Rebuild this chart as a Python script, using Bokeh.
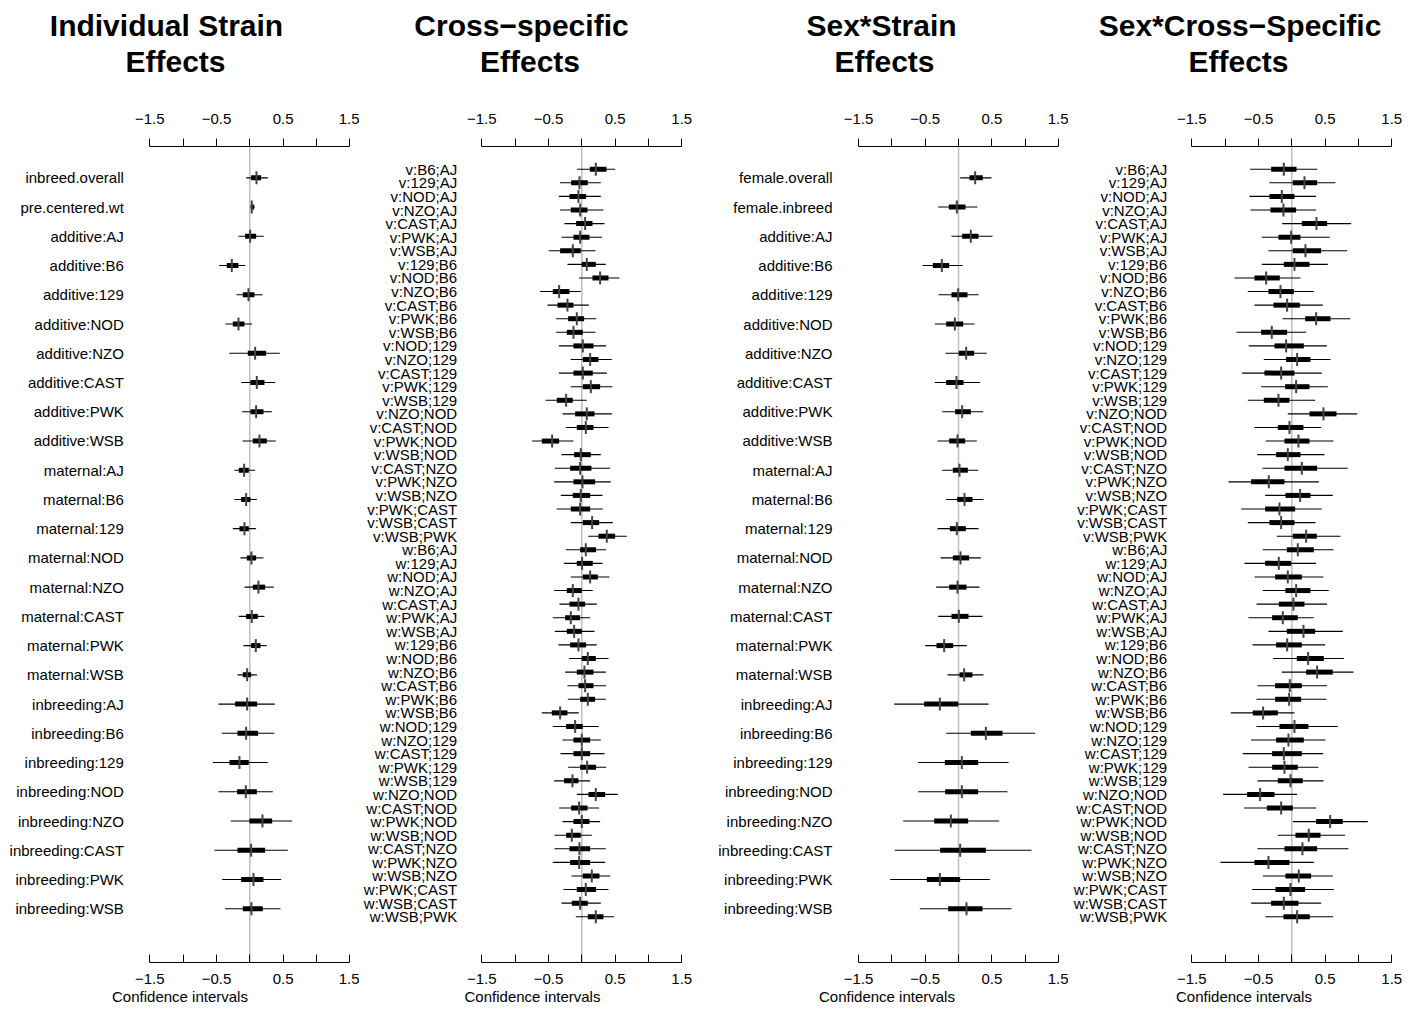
import math
from bokeh.plotting import figure
from bokeh.models import Range1d, LinearAxis, FixedTicker, Span, Title, ColumnDataSource
from bokeh.layouts import row
from bokeh.embed import file_html
from bokeh.resources import INLINE
from bokeh.core.properties import value

FONT = "Liberation Sans"

# ---------------- data ----------------
strain_labels = ["inbreed.overall", "pre.centered.wt",
                 "additive:AJ", "additive:B6", "additive:129", "additive:NOD",
                 "additive:NZO", "additive:CAST", "additive:PWK", "additive:WSB",
                 "maternal:AJ", "maternal:B6", "maternal:129", "maternal:NOD",
                 "maternal:NZO", "maternal:CAST", "maternal:PWK", "maternal:WSB",
                 "inbreeding:AJ", "inbreeding:B6", "inbreeding:129", "inbreeding:NOD",
                 "inbreeding:NZO", "inbreeding:CAST", "inbreeding:PWK", "inbreeding:WSB"]
strain_lo = [-0.055, 0.005, -0.17, -0.46, -0.2, -0.365, -0.31, -0.13, -0.115, -0.11,
             -0.23, -0.23, -0.255, -0.14, -0.08, -0.165, -0.095, -0.185,
             -0.47, -0.42, -0.555, -0.47, -0.285, -0.53, -0.415, -0.37]
strain_tlo = [0.02, 0.015, -0.07, -0.345, -0.105, -0.255, -0.03, 0.01, 0.01, 0.045,
              -0.165, -0.13, -0.155, -0.045, 0.045, -0.055, 0.02, -0.105,
              -0.22, -0.185, -0.305, -0.19, -0.005, -0.185, -0.13, -0.105]
strain_med = [0.1, 0.03, 0.005, -0.27, -0.02, -0.17, 0.08, 0.105, 0.095, 0.145,
              -0.085, -0.055, -0.08, 0.025, 0.13, 0.03, 0.09, -0.04,
              -0.04, -0.055, -0.155, -0.06, 0.19, 0.02, 0.055, 0.025]
strain_thi = [0.17, 0.065, 0.095, -0.17, 0.07, -0.08, 0.245, 0.22, 0.205, 0.255,
              -0.015, 0.01, -0.015, 0.095, 0.23, 0.12, 0.16, 0.02,
              0.11, 0.125, -0.015, 0.105, 0.335, 0.23, 0.205, 0.195]
strain_hi = [0.27, 0.075, 0.21, -0.07, 0.19, 0.035, 0.45, 0.38, 0.33, 0.39,
             0.08, 0.105, 0.095, 0.205, 0.36, 0.22, 0.255, 0.11,
             0.375, 0.37, 0.27, 0.345, 0.635, 0.57, 0.47, 0.46]

cross_labels = ["v:B6;AJ", "v:129;AJ", "v:NOD;AJ", "v:NZO;AJ", "v:CAST;AJ", "v:PWK;AJ", "v:WSB;AJ",
                "v:129;B6", "v:NOD;B6", "v:NZO;B6", "v:CAST;B6", "v:PWK;B6", "v:WSB;B6",
                "v:NOD;129", "v:NZO;129", "v:CAST;129", "v:PWK;129", "v:WSB;129",
                "v:NZO;NOD", "v:CAST;NOD", "v:PWK;NOD", "v:WSB;NOD",
                "v:CAST;NZO", "v:PWK;NZO", "v:WSB;NZO", "v:PWK;CAST", "v:WSB;CAST", "v:WSB;PWK",
                "w:B6;AJ", "w:129;AJ", "w:NOD;AJ", "w:NZO;AJ", "w:CAST;AJ", "w:PWK;AJ", "w:WSB;AJ",
                "w:129;B6", "w:NOD;B6", "w:NZO;B6", "w:CAST;B6", "w:PWK;B6", "w:WSB;B6",
                "w:NOD;129", "w:NZO;129", "w:CAST;129", "w:PWK;129", "w:WSB;129",
                "w:NZO;NOD", "w:CAST;NOD", "w:PWK;NOD", "w:WSB;NOD",
                "w:CAST;NZO", "w:PWK;NZO", "w:WSB;NZO", "w:PWK;CAST", "w:WSB;CAST", "w:WSB;PWK"]
cross_lo = [-0.07, -0.325, -0.345, -0.325, -0.26, -0.305, -0.495, -0.215, -0.04, -0.625,
            -0.515, -0.385, -0.385, -0.345, -0.165, -0.345, -0.165, -0.545, -0.29, -0.24,
            -0.745, -0.305, -0.405, -0.415, -0.315, -0.375, -0.165, 0.095,
            -0.24, -0.27, -0.165, -0.415, -0.335, -0.435, -0.405, -0.35, -0.19, -0.25,
            -0.215, -0.21, -0.6, -0.435, -0.29, -0.32, -0.205, -0.415, -0.075, -0.34,
            -0.29, -0.41, -0.41, -0.435, -0.155, -0.275, -0.305, -0.09]
cross_tlo = [0.12, -0.16, -0.185, -0.165, -0.085, -0.125, -0.325, 0.0, 0.16, -0.435,
             -0.365, -0.205, -0.225, -0.125, 0.015, -0.125, 0.015, -0.375, -0.1, -0.075,
             -0.6, -0.115, -0.175, -0.125, -0.135, -0.165, 0.015, 0.25,
             -0.025, -0.075, 0.015, -0.225, -0.185, -0.25, -0.225, -0.175, 0.0, -0.075,
             -0.05, -0.025, -0.45, -0.235, -0.125, -0.125, -0.025, -0.265, 0.1, -0.16,
             -0.125, -0.235, -0.185, -0.175, 0.015, -0.075, -0.15, 0.09]
cross_med = [0.21, -0.035, -0.05, -0.025, 0.05, -0.025, -0.135, 0.075, 0.275, -0.34,
             -0.215, -0.075, -0.125, 0.015, 0.125, 0.015, 0.135, -0.235, 0.075, 0.06,
             -0.445, -0.015, -0.025, 0.01, -0.015, -0.025, 0.155, 0.375,
             0.06, 0.005, 0.125, -0.135, -0.05, -0.165, -0.115, -0.05, 0.09, 0.04,
             0.05, 0.09, -0.325, -0.1, 0.0, 0.0, 0.08, -0.14, 0.21, -0.04,
             0.0, -0.15, -0.035, -0.04, 0.15, 0.06, -0.025, 0.21]
cross_thi = [0.37, 0.09, 0.065, 0.085, 0.16, 0.115, -0.015, 0.21, 0.4, -0.185,
             -0.125, 0.035, 0.015, 0.175, 0.25, 0.165, 0.275, -0.135, 0.19, 0.175,
             -0.34, 0.135, 0.145, 0.2, 0.125, 0.125, 0.26, 0.5,
             0.215, 0.165, 0.24, 0.0, 0.05, -0.025, 0.0, 0.065, 0.21, 0.175,
             0.175, 0.2, -0.215, 0.015, 0.125, 0.125, 0.215, -0.05, 0.35, 0.085,
             0.115, -0.015, 0.125, 0.125, 0.265, 0.215, 0.09, 0.325]
cross_hi = [0.5, 0.285, 0.285, 0.325, 0.34, 0.305, 0.205, 0.36, 0.565, -0.015,
            0.105, 0.215, 0.205, 0.365, 0.45, 0.375, 0.46, 0.075, 0.45, 0.4,
            -0.125, 0.285, 0.425, 0.435, 0.31, 0.315, 0.465, 0.675,
            0.365, 0.31, 0.415, 0.165, 0.225, 0.125, 0.19, 0.225, 0.4, 0.36,
            0.365, 0.36, -0.045, 0.255, 0.285, 0.34, 0.365, 0.125, 0.54, 0.26,
            0.275, 0.15, 0.36, 0.35, 0.425, 0.4, 0.285, 0.485]

sex_labels = ["female.overall", "female.inbreed",
              "additive:AJ", "additive:B6", "additive:129", "additive:NOD",
              "additive:NZO", "additive:CAST", "additive:PWK", "additive:WSB",
              "maternal:AJ", "maternal:B6", "maternal:129", "maternal:NOD",
              "maternal:NZO", "maternal:CAST", "maternal:PWK", "maternal:WSB",
              "inbreeding:AJ", "inbreeding:B6", "inbreeding:129", "inbreeding:NOD",
              "inbreeding:NZO", "inbreeding:CAST", "inbreeding:PWK", "inbreeding:WSB"]
sex_lo = [0.025, -0.305, -0.105, -0.54, -0.3, -0.355, -0.195, -0.355, -0.245, -0.315,
          -0.245, -0.19, -0.315, -0.27, -0.335, -0.305, -0.5, -0.165,
          -0.965, -0.185, -0.605, -0.605, -0.83, -0.955, -1.025, -0.58]
sex_tlo = [0.165, -0.145, 0.055, -0.385, -0.105, -0.185, 0.005, -0.185, -0.05, -0.14,
           -0.085, -0.02, -0.13, -0.085, -0.14, -0.105, -0.33, 0.015,
           -0.515, 0.185, -0.205, -0.2, -0.365, -0.275, -0.475, -0.155]
sex_med = [0.25, -0.025, 0.185, -0.25, -0.005, -0.055, 0.115, -0.03, 0.055, -0.015,
           0.015, 0.09, -0.025, 0.03, -0.015, 0.005, -0.215, 0.085,
           -0.28, 0.41, 0.05, 0.05, -0.115, 0.025, -0.28, 0.12]
sex_thi = [0.365, 0.105, 0.3, -0.14, 0.135, 0.07, 0.235, 0.075, 0.185, 0.1,
           0.14, 0.21, 0.11, 0.16, 0.12, 0.15, -0.08, 0.21,
           -0.005, 0.66, 0.295, 0.295, 0.145, 0.41, 0.025, 0.36]
sex_hi = [0.495, 0.285, 0.51, 0.06, 0.3, 0.24, 0.425, 0.325, 0.37, 0.275,
          0.295, 0.375, 0.3, 0.335, 0.315, 0.36, 0.125, 0.375,
          0.45, 1.15, 0.75, 0.735, 0.61, 1.095, 0.47, 0.795]

sexcross_labels = list(cross_labels)
sexcross_lo = [-0.625, -0.335, -0.635, -0.62, -0.145, -0.45, -0.35, -0.45, -0.86, -0.66,
               -0.56, -0.14, -0.83, -0.645, -0.42, -0.745, -0.46, -0.66, -0.06, -0.56,
               -0.39, -0.52, -0.44, -0.95, -0.4, -0.76, -0.66, -0.225,
               -0.435, -0.71, -0.56, -0.435, -0.53, -0.65, -0.35, -0.59, -0.28, -0.15,
               -0.515, -0.53, -0.915, -0.53, -0.61, -0.735, -0.65, -0.515, -1.03, -0.715,
               0.015, -0.21, -0.515, -1.07, -0.435, -0.595, -0.61, -0.395]
sexcross_tlo = [-0.31, 0.015, -0.335, -0.32, 0.15, -0.2, 0.015, -0.12, -0.56, -0.35,
                -0.275, 0.2, -0.46, -0.26, -0.085, -0.41, -0.1, -0.42, 0.265, -0.21,
                -0.11, -0.235, -0.11, -0.61, -0.095, -0.4, -0.335, 0.015,
                -0.075, -0.4, -0.25, -0.095, -0.195, -0.295, -0.075, -0.235, 0.075, 0.215,
                -0.25, -0.25, -0.585, -0.185, -0.235, -0.295, -0.295, -0.21, -0.67, -0.375,
                0.365, 0.055, -0.11, -0.56, -0.095, -0.245, -0.31, -0.125]
sexcross_med = [-0.12, 0.19, -0.15, -0.125, 0.37, -0.01, 0.205, 0.04, -0.385, -0.17,
                -0.07, 0.365, -0.3, -0.085, 0.08, -0.16, 0.065, -0.2, 0.475, -0.035,
                0.1, -0.06, 0.15, -0.345, 0.125, -0.185, -0.16, 0.215,
                0.09, -0.195, -0.06, 0.065, 0.025, -0.135, 0.175, -0.07, 0.245, 0.38,
                -0.03, -0.04, -0.43, 0.04, -0.05, -0.12, -0.11, -0.02, -0.475, -0.16,
                0.575, 0.255, 0.16, -0.35, 0.105, -0.02, -0.12, 0.08]
sexcross_thi = [0.07, 0.38, 0.04, 0.065, 0.53, 0.13, 0.44, 0.265, -0.18, 0.03,
                0.12, 0.58, -0.07, 0.18, 0.28, 0.04, 0.265, -0.035, 0.67, 0.175,
                0.265, 0.13, 0.38, -0.11, 0.28, 0.05, 0.04, 0.375,
                0.33, -0.01, 0.15, 0.28, 0.19, 0.09, 0.35, 0.15, 0.48, 0.615,
                0.15, 0.14, -0.21, 0.25, 0.18, 0.15, 0.09, 0.165, -0.26, 0.015,
                0.765, 0.43, 0.38, -0.035, 0.29, 0.2, 0.1, 0.27]
sexcross_hi = [0.38, 0.655, 0.365, 0.365, 0.89, 0.57, 0.83, 0.54, 0.13, 0.33,
               0.465, 0.875, 0.215, 0.525, 0.58, 0.45, 0.54, 0.35, 0.98, 0.44,
               0.625, 0.49, 0.84, 0.405, 0.615, 0.45, 0.355, 0.73,
               0.625, 0.365, 0.475, 0.555, 0.53, 0.33, 0.765, 0.5, 0.78, 0.925,
               0.53, 0.52, 0.04, 0.69, 0.505, 0.47, 0.4, 0.475, 0.08, 0.365,
               1.14, 0.8, 0.85, 0.33, 0.615, 0.63, 0.44, 0.62]

x_ticks = [-1.5, -1.0, -0.5, 0.0, 0.5, 1.0, 1.5]
x_tick_labels = ["\u22121.5", "", "\u22120.5", "", "0.5", "", "1.5"]

panel_titles = [("Individual Strain", "Effects"), ("Cross\u2212specific", "Effects"),
                ("Sex*Strain", "Effects"), ("Sex*Cross\u2212Specific", "Effects")]
x_axis_title = "Confidence intervals"

# ---------------- layout (page pixels) ----------------
FIG_H = 1007
FRAME_TOP = 143
FRAME_BOT = 958
COLS = [(0, 359), (359, 705), (705, 1068), (1068, 1419)]
X_M15 = [149.3, 481.3, 858.0, 1191.3]
PX_PER_UNIT = 200.0 / 3.0
ROW_FIRST = [174.3, 165.7, 174.3, 165.7]
ROW_LAST = [904.3, 912.3, 904.3, 912.3]
LABEL_GAP = [26.0, 24.6, 26.0, 24.6]
TITLE_SIZE = 30
TITLE_CENTERS = [(166.0, 175.0), (521.0, 529.5), (881.0, 884.0), (1239.5, 1238.0)]

# advance widths (1/1000 em) of the bold sans face, used only to centre title lines
BOLD_W = {' ': 278, '*': 389, '\u2212': 584, 'C': 722, 'E': 667, 'I': 278, 'S': 667,
          'a': 556, 'c': 556, 'd': 611, 'e': 556, 'f': 333, 'i': 278, 'l': 278,
          'n': 611, 'o': 611, 'p': 611, 'r': 389, 's': 556, 't': 333, 'u': 611,
          'v': 556, 'x': 556}


def text_width(s, size):
    return sum(BOLD_W.get(ch, 556) for ch in s) * size / 1000.0


def make_title(text, center, col_left, standoff):
    off = center - text_width(text, TITLE_SIZE) / 2.0 - col_left
    return Title(text=text, align="left", offset=off, vertical_align="top", standoff=standoff,
                 text_font=FONT, text_font_size=f"{TITLE_SIZE}px", text_font_style="bold",
                 text_color="black")


def make_panel(idx, titles, labels, lo, tlo, med, thi, hi):
    n = len(labels)
    for arr in (lo, tlo, med, thi, hi):
        assert len(arr) == n, (idx, len(arr), n)
    ys = [n - i for i in range(n)]
    ppu_y = (ROW_LAST[idx] - ROW_FIRST[idx]) / (n - 1)
    y_end = n + (ROW_FIRST[idx] - FRAME_TOP) / ppu_y
    y_start = 1 - (FRAME_BOT - ROW_LAST[idx]) / ppu_y
    cl, cr = COLS[idx]
    x_start = -1.5 - (X_M15[idx] - cl) / PX_PER_UNIT
    x_end = -1.5 + (cr - X_M15[idx]) / PX_PER_UNIT
    label_x = -1.5 - LABEL_GAP[idx] / PX_PER_UNIT

    p = figure(width=cr - cl, height=FIG_H,
               x_range=Range1d(x_start, x_end), y_range=Range1d(y_start, y_end),
               x_axis_location="above", y_axis_location=None,
               toolbar_location=None, output_backend="svg", title=None,
               min_border_left=0, min_border_right=0, min_border_top=0, min_border_bottom=0,
               outline_line_color=None, background_fill_color="white",
               border_fill_color="white")
    p.grid.visible = False

    overrides = {t: l for t, l in zip(x_ticks, x_tick_labels)}

    top = p.above[0]
    top.ticker = FixedTicker(ticks=x_ticks)
    top.bounds = (-1.5, 1.5)
    top.major_label_overrides = overrides
    top.major_tick_out = 8
    top.major_tick_in = 0
    top.minor_tick_out = 0
    top.minor_tick_in = 0
    top.major_label_standoff = 15
    top.major_label_text_font = FONT
    top.major_label_text_font_size = "15px"
    top.major_label_text_color = "black"
    top.axis_line_color = "black"
    top.major_tick_line_color = "black"

    bot = LinearAxis(ticker=FixedTicker(ticks=x_ticks), bounds=(-1.5, 1.5),
                     major_label_overrides=overrides,
                     major_tick_out=0, major_tick_in=8, minor_tick_out=0, minor_tick_in=0,
                     major_label_standoff=11,
                     major_label_text_font=FONT, major_label_text_font_size="15px",
                     major_label_text_color="black",
                     axis_line_color="black", major_tick_line_color="black",
                     axis_label=x_axis_title, axis_label_standoff=1,
                     axis_label_text_font=FONT, axis_label_text_font_size="15px",
                     axis_label_text_font_style="normal", axis_label_text_color="black")
    p.add_layout(bot, "below")

    gap_mid = Title(text=" ", text_font_size="1px", standoff=28)
    t2 = make_title(titles[1], TITLE_CENTERS[idx][1], cl, 0)
    t1 = make_title(titles[0], TITLE_CENTERS[idx][0], cl, 2)
    gap_top = Title(text=" ", text_font_size="1px", standoff=4)
    p.add_layout(gap_mid, "above")
    p.add_layout(t2, "above")
    p.add_layout(t1, "above")
    p.add_layout(gap_top, "above")

    p.add_layout(Span(location=0, dimension="height", line_color="#bebebe",
                      line_width=1.5, level="underlay"))

    src = ColumnDataSource(dict(y=ys, lo=lo, tlo=tlo, med=med, thi=thi, hi=hi, label=labels))
    p.segment(x0="lo", x1="hi", y0="y", y1="y", source=src, line_color="black", line_width=1.1)
    p.segment(x0="tlo", x1="thi", y0="y", y1="y", source=src, line_color="black",
              line_width=5, line_cap="butt")
    p.scatter(x="med", y="y", source=src, marker="dash", angle=math.pi / 2, size=13,
              line_color="#444444", line_width=2)
    p.text(x=label_x, y="y", text="label", source=src, text_align="right",
           text_baseline="middle", text_font=value(FONT), text_font_size="15px",
           text_color="black")
    return p


p1 = make_panel(0, panel_titles[0], strain_labels, strain_lo, strain_tlo, strain_med, strain_thi, strain_hi)
p2 = make_panel(1, panel_titles[1], cross_labels, cross_lo, cross_tlo, cross_med, cross_thi, cross_hi)
p3 = make_panel(2, panel_titles[2], sex_labels, sex_lo, sex_tlo, sex_med, sex_thi, sex_hi)
p4 = make_panel(3, panel_titles[3], sexcross_labels, sexcross_lo, sexcross_tlo, sexcross_med,
                sexcross_thi, sexcross_hi)

layout = row(p1, p2, p3, p4)
open("out.html", "w").write(file_html(layout, INLINE))
